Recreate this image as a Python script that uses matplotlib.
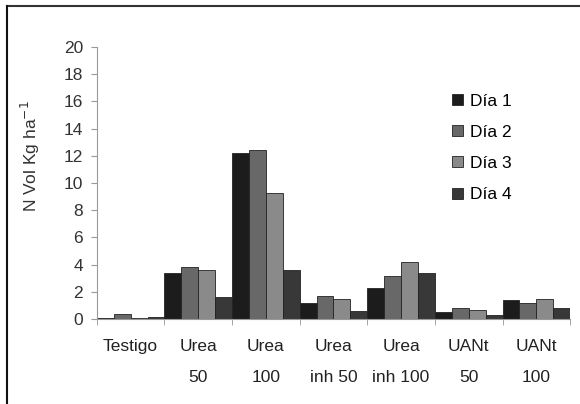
import numpy as np
import matplotlib
matplotlib.use("Agg")
import matplotlib.pyplot as plt
from matplotlib.lines import Line2D

plt.rcParams['font.family'] = ['Liberation Sans', 'DejaVu Sans']

categories = ["Testigo", "Urea\n50", "Urea\n100", "Urea\ninh 50", "Urea\ninh 100", "UANt\n50", "UANt\n100"]
series_names = ["Día 1", "Día 2", "Día 3", "Día 4"]
dia1 = [0.1, 3.4, 12.2, 1.2, 2.3, 0.5, 1.4]
dia2 = [0.35, 3.8, 12.4, 1.7, 3.2, 0.8, 1.2]
dia3 = [0.1, 3.6, 9.3, 1.5, 4.2, 0.7, 1.5]
dia4 = [0.15, 1.6, 3.6, 0.6, 3.4, 0.3, 0.8]
yticks = [0, 2, 4, 6, 8, 10, 12, 14, 16, 18, 20]

colors = ["#1c1c1c", "#686868", "#8a8a8a", "#383838"]
fs = 12.5

fig = plt.figure(figsize=(5.8, 4.04), dpi=100)
ax = fig.add_axes([0.167, 0.21, 0.816, 0.674])

x = np.arange(len(categories))
w = 0.25
for i, (vals, name) in enumerate(zip([dia1, dia2, dia3, dia4], series_names)):
    ax.bar(x - 0.375 + i * w, vals, width=w, color=colors[i],
           edgecolor="#222222", linewidth=0.6, label=name)

ax.set_xlim(-0.5, len(categories) - 0.5)
ax.set_ylim(0, 20)
ax.set_yticks(yticks)
ax.set_xticks(x)
ax.set_xticklabels(categories, fontsize=fs, color="#222222", linespacing=2.4)
ax.set_xticks(np.arange(len(categories) + 1) - 0.5, minor=True)
ax.tick_params(axis="x", which="major", length=0, pad=14)
ax.tick_params(axis="x", which="minor", length=4, color="#999999", direction="out")
ax.tick_params(axis="y", length=4, color="#999999", labelsize=fs, labelcolor="#333333", pad=6)

for s in ["top", "right"]:
    ax.spines[s].set_visible(False)
ax.spines["left"].set_color("#999999")
ax.spines["bottom"].set_color("#999999")

ax.set_ylabel("N Vol Kg ha$^{-1}$", fontsize=fs, color="#333333")
ax.yaxis.set_label_coords(-0.115, 0.6)

ax.legend(loc="upper left", bbox_to_anchor=(0.718, 0.885), frameon=False,
          fontsize=fs, handlelength=0.6, handleheight=0.6, handletextpad=0.4,
          labelspacing=0.93)

# figure frame (top and left)
fig.add_artist(Line2D([0.012, 1.0], [0.985, 0.985], color="#333333", linewidth=1.5, transform=fig.transFigure))
fig.add_artist(Line2D([0.012, 0.012], [0.0, 0.985], color="#111111", linewidth=1.5, transform=fig.transFigure))

fig.savefig("out.png", dpi=100)
